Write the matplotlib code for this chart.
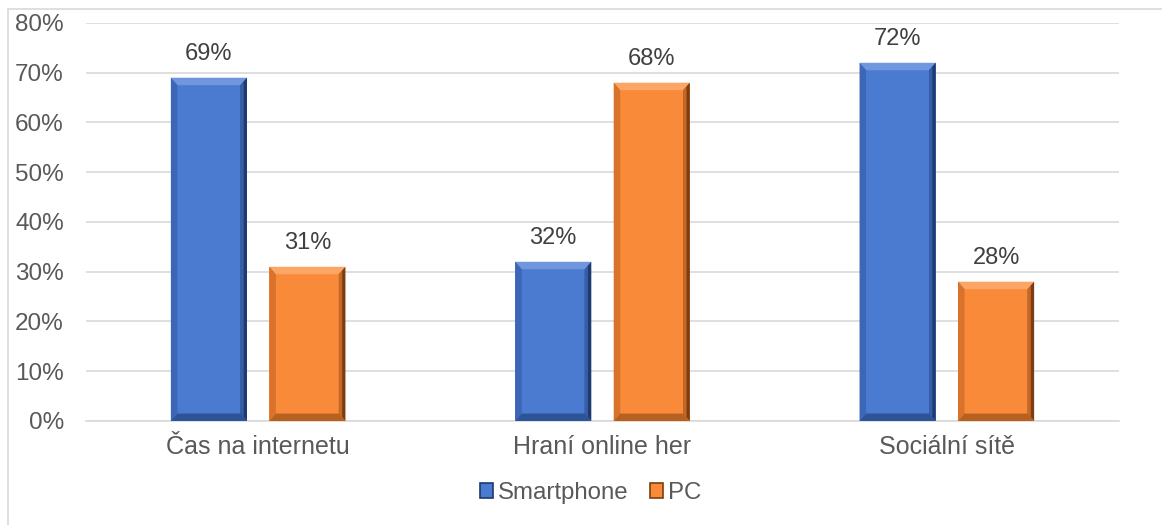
import matplotlib
matplotlib.use('Agg')
import matplotlib.pyplot as plt
from matplotlib.patches import Polygon, Rectangle
from matplotlib.ticker import FuncFormatter
import numpy as np

# Podíl zařízení podle aktivity (v %)
categories = ['Čas na internetu', 'Hraní online her', 'Sociální sítě']
smartphone = [69, 32, 72]
pc = [31, 68, 28]
series_names = ['Smartphone', 'PC']

plt.rcParams['font.family'] = ['Liberation Sans', 'DejaVu Sans']
text_color = '#595959'
grid_color = '#D9D9D9'

# face, top, left, right, bottom shades for bevelled bars
shades = {
    'Smartphone': ['#4A7BD1', '#6F97DE', '#3D67B6', '#1E3A6E', '#2D5499'],
    'PC': ['#F98A3A', '#FBA566', '#D9732B', '#7A3E12', '#B8601F'],
}

fig = plt.figure(figsize=(11.62, 5.25), dpi=100)
ax = fig.add_axes([0.0740, 0.1981, 0.8890, 0.7581])

# light frame around the chart area
fig.patches.append(Rectangle((8 / 1162, -0.1), 1.2, 1 - 9 / 525 + 0.1,
                             transform=fig.transFigure, fill=False,
                             edgecolor='#D9D9D9', linewidth=1.2))

x = np.arange(len(categories))
width = 0.221
offset = 0.143
bev_x = 0.019
bev_y = 1.5


def bevel_bar(xc, h, name):
    face, top, left, right, bottom = shades[name]
    x0, x1 = xc - width / 2, xc + width / 2
    ax.add_patch(Rectangle((x0, 0), width, h, facecolor=face, edgecolor='none', zorder=3))
    ix0, ix1 = x0 + bev_x, x1 - bev_x
    iy0, iy1 = bev_y, h - bev_y
    ax.add_patch(Polygon([(x0, h), (x1, h), (ix1, iy1), (ix0, iy1)],
                         closed=True, facecolor=top, edgecolor='none', zorder=4))
    ax.add_patch(Polygon([(x0, 0), (x0, h), (ix0, iy1), (ix0, iy0)],
                         closed=True, facecolor=left, edgecolor='none', zorder=4))
    ax.add_patch(Polygon([(x1, 0), (x1, h), (ix1, iy1), (ix1, iy0)],
                         closed=True, facecolor=right, edgecolor='none', zorder=4))
    # softer inner half of the right edge
    mx = x1 - bev_x / 2
    ax.add_patch(Polygon([(mx, bev_y / 2), (mx, h - bev_y / 2), (ix1, iy1), (ix1, iy0)],
                         closed=True, facecolor=left, edgecolor='none', zorder=4, alpha=0.8))
    ax.add_patch(Polygon([(x0, 0), (x1, 0), (ix1, iy0), (ix0, iy0)],
                         closed=True, facecolor=bottom, edgecolor='none', zorder=4))
    ax.text(xc, h + 2.6, f'{h}%', ha='center', va='bottom',
            fontsize=17, color='#404040', zorder=5)


for i in range(len(categories)):
    bevel_bar(x[i] - offset, smartphone[i], 'Smartphone')
    bevel_bar(x[i] + offset, pc[i], 'PC')

ax.set_xlim(-0.5, len(categories) - 0.5)
ax.set_ylim(0, 80)
ax.set_yticks(np.arange(0, 81, 10))
ax.yaxis.set_major_formatter(FuncFormatter(lambda v, p: f'{int(v)}%'))
ax.set_xticks(x)
ax.set_xticklabels(categories)
ax.grid(axis='y', color=grid_color, linewidth=1.2, zorder=0)
ax.set_axisbelow(True)
for side in ['top', 'right', 'left']:
    ax.spines[side].set_visible(False)
ax.spines['bottom'].set_color(grid_color)
ax.spines['bottom'].set_linewidth(1.2)
ax.tick_params(axis='both', length=0, labelcolor=text_color)
ax.tick_params(axis='y', pad=16, labelsize=17.5)
ax.tick_params(axis='x', pad=10, labelsize=18)

# legend with small bevelled squares
handles = [Rectangle((0, 0), 1, 1, facecolor=shades[n][0], edgecolor=shades[n][3], linewidth=1.2)
           for n in series_names]
leg = fig.legend(handles, series_names, loc='center', bbox_to_anchor=(0.508, 1 - 493 / 525),
                 ncol=2, frameon=False, fontsize=17.3, handlelength=0.55, handleheight=0.55,
                 handletextpad=0.2, columnspacing=0.9)
for t in leg.get_texts():
    t.set_color(text_color)

fig.savefig('out.png', dpi=100)
